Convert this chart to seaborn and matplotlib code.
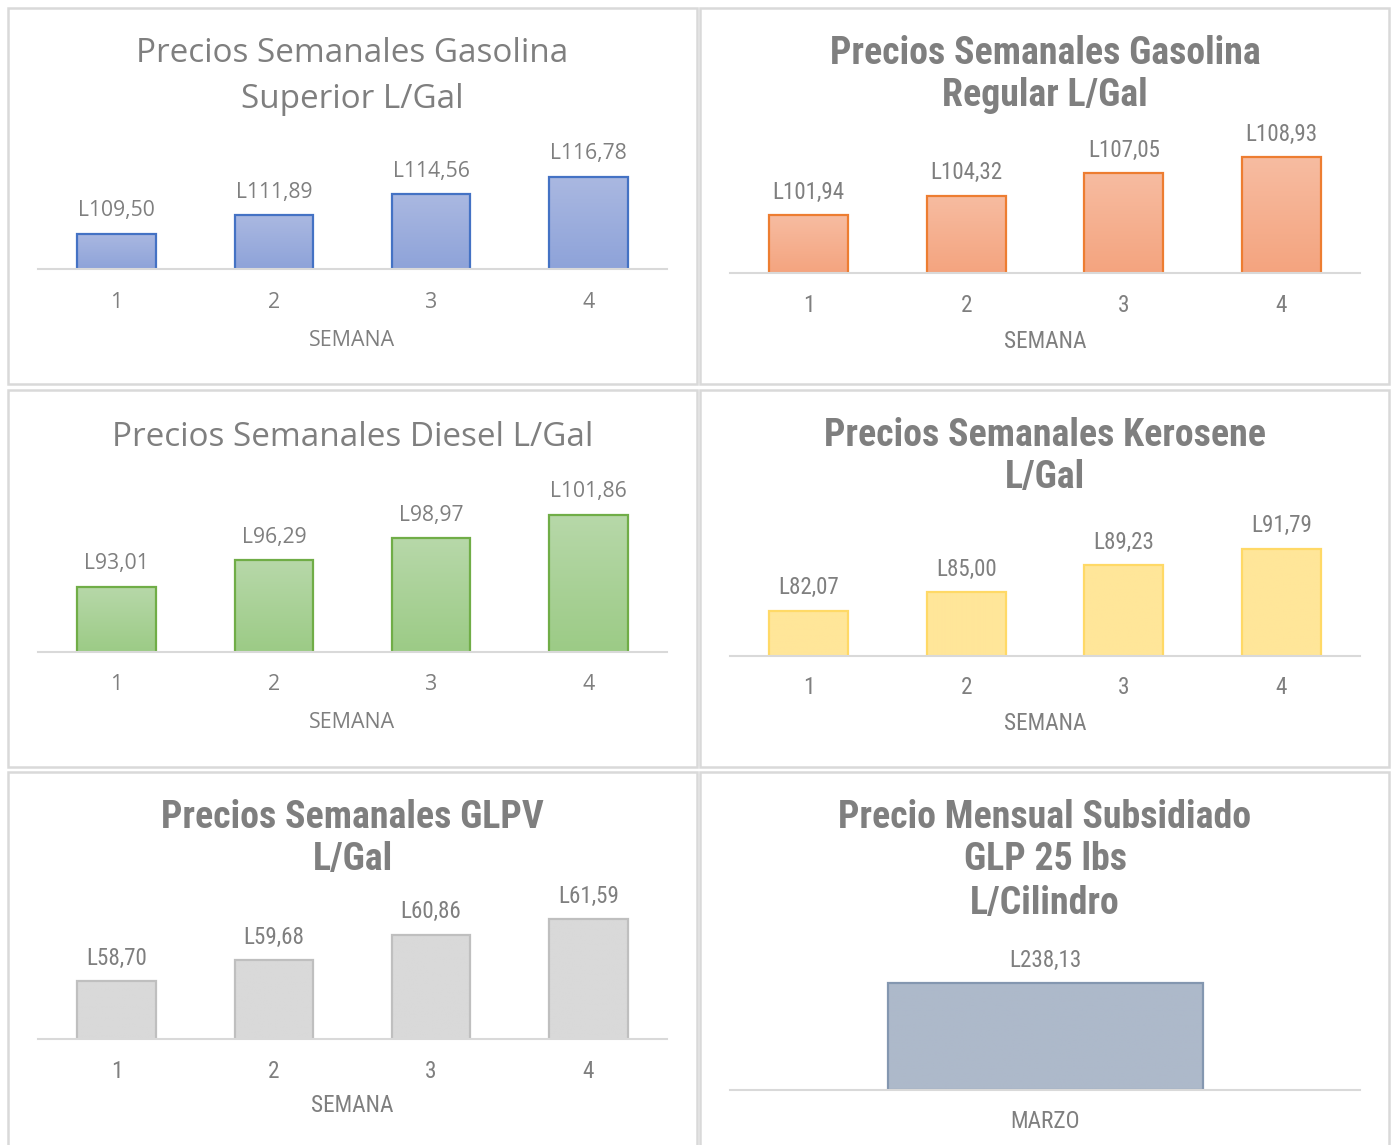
import numpy as np
import matplotlib
matplotlib.use("Agg")
import matplotlib.pyplot as plt
import seaborn as sns
from matplotlib.colors import LinearSegmentedColormap
from matplotlib.patches import Rectangle

# Datos
semanas = [1, 2, 3, 4]
superior = [109.50, 111.89, 114.56, 116.78]
regular = [101.94, 104.32, 107.05, 108.93]
diesel = [93.01, 96.29, 98.97, 101.86]
kerosene = [82.07, 85.00, 89.23, 91.79]
glpv = [58.70, 59.68, 60.86, 61.59]
mes = ["MARZO"]
glp_25 = [238.13]

titulos = [
    "Precios Semanales Gasolina\nSuperior L/Gal",
    "Precios Semanales Gasolina\nRegular L/Gal",
    "Precios Semanales Diesel L/Gal",
    "Precios Semanales Kerosene\nL/Gal",
    "Precios Semanales GLPV\nL/Gal",
    "Precio Mensual Subsidiado\nGLP 25 lbs\nL/Cilindro",
]

sns.set_theme(style="white")
plt.rcParams["font.family"] = ["DejaVu Sans"]

W, H = 1392, 1145
fig = plt.figure(figsize=(W / 100, H / 100), dpi=100)
fig.patch.set_facecolor("white")
renderer = fig.canvas.get_renderer()

SEGOE = ["Open Sans", "Noto Sans", "DejaVu Sans"]
NARROW = ["Roboto Condensed", "Liberation Sans Narrow", "Arial Narrow",
          "Roboto", "Liberation Sans", "DejaVu Sans"]
GRIS = "#7f7f7f"
PX = 72 / 100  # puntos por pixel


def fx(px):
    return px / W


def fy(py):
    return 1 - py / H


def fit_size(texto, fuente, weight, ancho_px):
    t = fig.text(0, 0, texto, fontsize=20, family=fuente, weight=weight)
    w = t.get_window_extent(renderer).width
    t.remove()
    return 20 * ancho_px / w


# marcos de los paneles
for (x0, y0, x1, y1) in [(8, 8, 697, 384), (700, 8, 1389, 384),
                         (8, 390, 697, 767), (700, 390, 1389, 767),
                         (8, 772, 697, 1150), (700, 772, 1389, 1150)]:
    fig.patches.append(Rectangle((fx(x0), fy(y1)), fx(x1 - x0), (y1 - y0) / H,
                                 transform=fig.transFigure, fill=False,
                                 edgecolor="#d9d9d9", linewidth=1.8))

# tamanos de letra ajustados al ancho medido en la referencia
S_TIT = fit_size("Precios Semanales Gasolina", SEGOE, "normal", 430)
S_LAB = fit_size("L109,50", SEGOE, "normal", 77)
S_TICK = fit_size("SEMANA", SEGOE, "normal", 86)
N_TIT = fit_size("Precios Semanales Gasolina", NARROW, "bold", 430)
N_LAB = fit_size("L101,94", NARROW, "normal", 72)
N_TICK = fit_size("SEMANA", NARROW, "normal", 82)


def panel(cats, vals, ylim, left, right, base, scale, top_c, bot_c, edge_c,
          fuente, title, title_ys, title_size, title_weight, label_size,
          tick_size, xlabel=None, xlabel_off=66, tick_off=31, width=0.5, lw=1.6):
    top = base - (ylim[1] - ylim[0]) * scale
    ax = fig.add_axes([fx(left), fy(base), fx(right - left), (base - top) / H])
    sns.barplot(x=cats, y=vals, ax=ax, width=width, facecolor="none",
                edgecolor=edge_c, linewidth=lw, zorder=3)
    cmap = LinearSegmentedColormap.from_list("g", [bot_c, top_c])
    grad = np.linspace(0, 1, 64).reshape(-1, 1)
    for p in ax.patches:
        x0, w, h = p.get_x(), p.get_width(), p.get_height()
        im = ax.imshow(grad, extent=[x0, x0 + w, ylim[0], h], origin="lower",
                       cmap=cmap, aspect="auto", zorder=2)
        im.set_clip_path(p)
        ax.annotate(f"L{h:.2f}".replace(".", ","), (x0 + w / 2, h),
                    xytext=(0, 23 * PX), textcoords="offset points", ha="center",
                    va="center", fontsize=label_size, color=GRIS, family=fuente)
    ax.set_xlim(-0.5, len(cats) - 0.5)
    ax.set_ylim(*ylim)
    ax.set_yticks([])
    ax.set_ylabel("")
    for s in ["top", "left", "right"]:
        ax.spines[s].set_visible(False)
    ax.spines["bottom"].set_color("#d9d9d9")
    ax.spines["bottom"].set_linewidth(1.5)
    ax.spines["bottom"].set_zorder(5)
    ax.tick_params(axis="x", length=0, pad=(tick_off + 2) * PX, labelsize=tick_size,
                   labelcolor=GRIS)
    for t in ax.get_xticklabels():
        t.set_family(fuente)
        t.set_va("center")
    ax.set_xlabel("")
    if xlabel:
        ax.set_xlabel(xlabel, fontsize=tick_size, color=GRIS, family=fuente, va="center")
        ax.xaxis.set_label_coords(0.5, -(xlabel_off + 3) / (base - top))
    cx = (left + right) / 2
    for linea, ty in zip(title.split("\n"), title_ys):
        fig.text(fx(cx), fy(ty), linea, ha="center", va="center", fontsize=title_size,
                 color=GRIS, family=fuente, weight=title_weight)
    return ax


panel(semanas, superior, (105, 120), 38, 667, 269, 7.83, "#aab8e1", "#8ea3d9",
      "#4472c4", SEGOE, titulos[0], [54, 100], S_TIT, "normal", S_LAB, S_TICK,
      "SEMANA", xlabel_off=68)
panel(semanas, regular, (95, 110), 730, 1360, 273, 8.30, "#f7bca1", "#f4a47f",
      "#ed7d31", NARROW, titulos[1], [53, 95], N_TIT, "bold", N_LAB, N_TICK,
      "SEMANA", xlabel_off=65, tick_off=30)
panel(semanas, diesel, (85, 105), 38, 667, 652, 8.14, "#b7d8a9", "#9ccb86",
      "#70ad47", SEGOE, titulos[2], [437], S_TIT, "normal", S_LAB, S_TICK,
      "SEMANA", xlabel_off=68)
panel(semanas, kerosene, (75, 95), 730, 1360, 656, 6.38, "#ffe699", "#ffe699",
      "#ffd966", NARROW, titulos[3], [436, 477], N_TIT, "bold", N_LAB, N_TICK,
      "SEMANA", xlabel_off=65, tick_off=30)
panel(semanas, glpv, (56, 62), 38, 667, 1039, 21.45, "#d9d9d9", "#d9d9d9",
      "#bfbfbf", NARROW, titulos[4], [818, 860], N_TIT, "bold", N_LAB, N_TICK,
      "SEMANA", xlabel_off=64, tick_off=30)
panel(mes, glp_25, (0, 300), 730, 1360, 1090, 0.4493, "#adb9ca", "#adb9ca",
      "#8497b0", NARROW, titulos[5], [818, 860, 903], N_TIT, "bold", N_LAB, N_TICK,
      None, tick_off=29)

fig.savefig("out.png", dpi=100, facecolor="white")
